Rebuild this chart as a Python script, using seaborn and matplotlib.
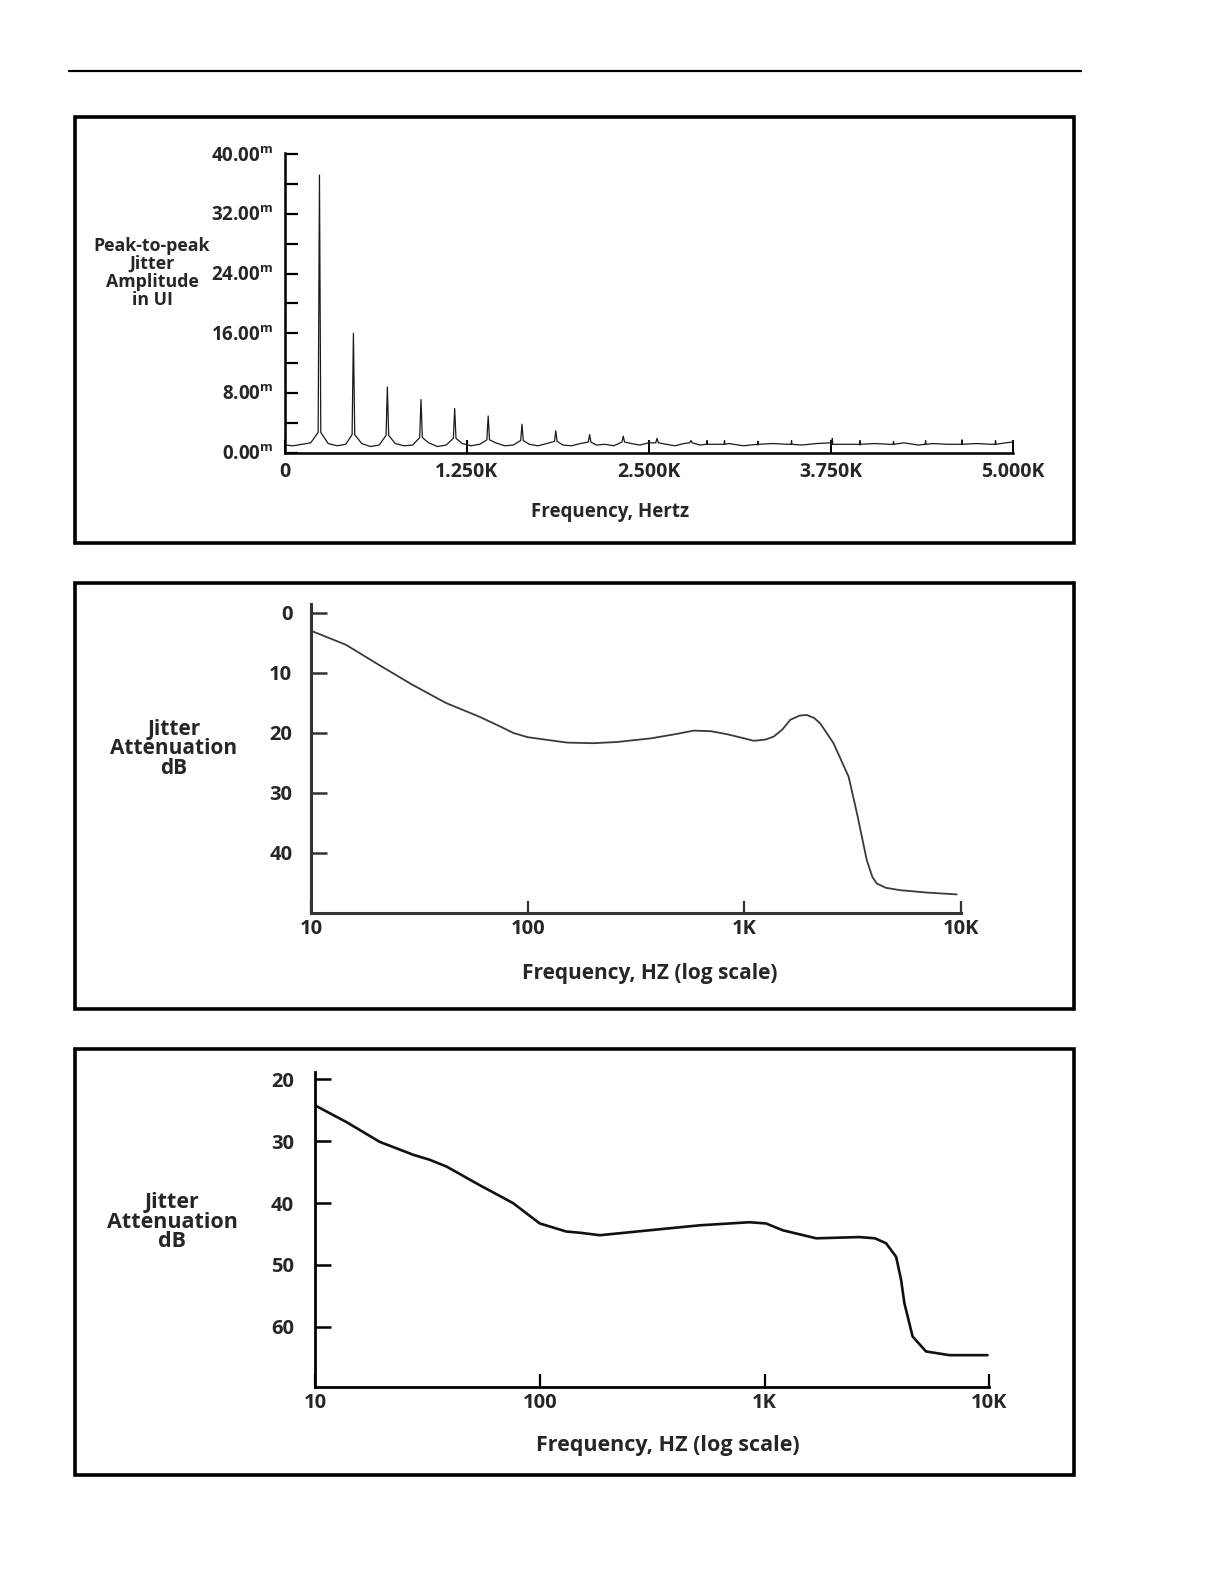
import numpy as np
import pandas as pd
import matplotlib
matplotlib.use("Agg")
import matplotlib.pyplot as plt
import seaborn as sns
from matplotlib.patches import Rectangle
from matplotlib.lines import Line2D
from matplotlib.ticker import FixedLocator, FixedFormatter, NullLocator

# ---------------- data ----------------
# Panel 1: jitter spectrum (harmonic peaks, mUI)
peak_hz = [240, 473, 706, 937, 1168, 1398, 1630, 1862, 2094, 2325, 2557, 2790]
peak_amp = [37.2, 16.0, 8.8, 7.1, 5.9, 4.9, 3.8, 2.9, 2.4, 2.2, 1.9, 1.6]
peak_skirt = [2.7, 2.4, 2.3, 2.0, 1.9, 1.7, 1.6, 1.5, 1.4, 1.4, 1.3, 1.3]

base_hz = [5, 60, 120, 180, 300, 360, 420, 530, 590, 650,
           760, 820, 880, 990, 1050, 1110, 1220, 1280, 1340, 1450,
           1510, 1570, 1680, 1740, 1800, 1910, 1970, 2030, 2140, 2200,
           2260, 2380, 2440, 2500, 2620, 2680, 2740, 2850, 2950, 3050,
           3150, 3250, 3350, 3450, 3550, 3650, 3750, 3850, 3950, 4050,
           4150, 4250, 4350, 4450, 4550, 4650, 4750, 4850, 4950, 5000]
base_amp = [1.0, 0.9, 1.1, 1.3, 1.2, 0.9, 1.1, 1.2, 0.8, 1.0,
            1.2, 0.9, 1.0, 1.3, 0.8, 1.0, 1.2, 0.9, 1.1, 1.3,
            0.9, 1.0, 1.1, 0.9, 1.2, 1.0, 0.9, 1.2, 1.0, 1.1,
            0.9, 1.2, 1.0, 1.3, 1.1, 0.9, 1.2, 1.0, 1.1, 1.2,
            0.9, 1.0, 1.2, 1.1, 1.0, 1.2, 1.3, 1.1, 1.0, 1.2,
            1.1, 1.3, 1.0, 1.2, 1.1, 1.3, 1.2, 1.1, 1.3, 1.4]

minor_hz = [2900, 3020, 3250, 3480, 3760, 3950, 4180, 4400, 4650, 4880]
minor_amp = [1.6, 1.6, 1.5, 1.6, 1.9, 1.6, 1.5, 1.6, 1.7, 1.6]

p1_yticks = [0, 8, 16, 24, 32, 40]
p1_ylabels = ["0.00", "8.00", "16.00", "24.00", "32.00", "40.00"]
p1_xticks = [0, 1250, 2500, 3750, 5000]
p1_xlabels = ["0", "1.250K", "2.500K", "3.750K", "5.000K"]

# Panel 2: jitter attenuation
p2_hz = [10, 14.5, 20.7, 29.5, 42, 60, 75, 86, 100, 152,
         200, 259, 369, 480, 584, 700, 832, 1000, 1104, 1250,
         1366, 1500, 1630, 1800, 1944, 2100, 2240, 2580, 3030, 3310,
         3675, 3900, 4090, 4500, 5240, 7000, 9550]
p2_db = [2.95, 5.3, 8.7, 12.0, 15.0, 17.3, 18.95, 20.0, 20.7, 21.6,
         21.7, 21.5, 20.9, 20.2, 19.6, 19.7, 20.2, 20.9, 21.3, 21.1,
         20.6, 19.4, 17.8, 17.1, 17.0, 17.5, 18.4, 21.7, 27.3, 33.4,
         41.2, 44.0, 45.1, 45.8, 46.2, 46.6, 46.9]
p2_yticks = [0, 10, 20, 30, 40]

# Panel 3: jitter attenuation
p3_hz = [10, 13.8, 19.4, 27.4, 32.4, 38.5, 54, 66, 76, 100,
         131, 151, 185, 308, 514, 858, 1016, 1205, 1698, 2642,
         3100, 3473, 3850, 4050, 4190, 4560, 5230, 6640, 9820]
p3_db = [24.2, 26.9, 30.1, 32.2, 33.0, 34.1, 37.1, 38.8, 40.0, 43.3,
         44.6, 44.8, 45.2, 44.4, 43.6, 43.1, 43.3, 44.4, 45.7, 45.5,
         45.7, 46.5, 48.7, 52.4, 56.2, 61.6, 64.0, 64.6, 64.6]
p3_yticks = [20, 30, 40, 50, 60]

log_ticks = [10, 100, 1000, 10000]
log_labels = ["10", "100", "1K", "10K"]

# ---------------- style ----------------
sns.set_theme(style="white")
FONT = ["Open Sans", "DejaVu Sans"]
plt.rcParams["font.family"] = FONT
plt.rcParams["font.weight"] = "bold"
plt.rcParams["mathtext.fontset"] = "custom"
plt.rcParams["mathtext.rm"] = "Open Sans:bold"
plt.rcParams["mathtext.it"] = "Open Sans:bold"

W, H = 1225, 1585
fig = plt.figure(figsize=(W / 100, H / 100), dpi=100)


def fx(px):
    return px / W


def fy(py):
    return 1 - py / H


def axes_px(x0, x1, ytop, ybot):
    return fig.add_axes([fx(x0), fy(ybot), fx(x1) - fx(x0), fy(ytop) - fy(ybot)])


# frames and top rule
fig.add_artist(Line2D([fx(69), fx(1081)], [fy(71), fy(71)], color="black", lw=1.6))
for top, bot in [(117, 543), (583, 1009), (1049, 1475)]:
    fig.add_artist(Rectangle((fx(75), fy(bot)), fx(1074) - fx(75), fy(top) - fy(bot),
                             fill=False, edgecolor="black", lw=2.6))


def style_axes(ax, lw, color="black"):
    sns.despine(ax=ax, top=True, right=True)
    for s in ("left", "bottom"):
        ax.spines[s].set_linewidth(lw)
        ax.spines[s].set_color(color)
    ax.set_facecolor("none")
    ax.grid(False)
    ax.set_xlabel("")
    ax.set_ylabel("")


# ---------------- panel 1 ----------------
rows = [(f, a) for f, a in zip(base_hz, base_amp)]
for f, a, s in zip(peak_hz, peak_amp, peak_skirt):
    rows += [(f - 9, s), (f, a), (f + 9, s)]
for f, a in zip(minor_hz, minor_amp):
    rows += [(f - 3, 1.1), (f, a), (f + 3, 1.1)]
spec = pd.DataFrame(rows, columns=["hz", "amp"]).sort_values("hz")

ax1 = axes_px(284.5, 1013, 152.7, 452.5)
sns.lineplot(data=spec, x="hz", y="amp", ax=ax1, color="#1a1a1a", lw=0.9,
             estimator=None, sort=True)
ax1.set_xlim(0, 5000)
ax1.set_ylim(0, 40.2)
style_axes(ax1, 1.8)
ax1.yaxis.set_major_locator(FixedLocator(p1_yticks))
ax1.yaxis.set_major_formatter(FixedFormatter([l + r"$^{\mathrm{m}}$" for l in p1_ylabels]))
ax1.yaxis.set_minor_locator(FixedLocator([4, 12, 20, 28, 36]))
ax1.xaxis.set_major_locator(FixedLocator(p1_xticks))
ax1.xaxis.set_major_formatter(FixedFormatter(p1_xlabels))
ax1.xaxis.set_minor_locator(NullLocator())
ax1.tick_params(axis="y", which="both", direction="in", length=9.5, width=1.6,
                color="black", pad=8, labelsize=13.5, left=True)
ax1.tick_params(axis="x", which="major", direction="in", length=9.5, width=1.4,
                color="black", pad=7, labelsize=14, bottom=True)
fig.text(fx(152), fy(273), "Peak-to-peak\nJitter\nAmplitude\nin UI", ha="center",
         va="center", fontsize=12.8, fontweight="bold", linespacing=1.02)
fig.text(fx(610), fy(512), "Frequency, Hertz", ha="center", va="center",
         fontsize=13.5, fontweight="bold")

# ---------------- panel 2 ----------------
df2 = pd.DataFrame({"hz": p2_hz, "db": p2_db})
ax2 = axes_px(311, 961, 604, 913)
sns.lineplot(data=df2, x="hz", y="db", ax=ax2, color="#3a3a3a", lw=1.3,
             estimator=None, sort=True)
ax2.set_xscale("log")
ax2.set_xlim(10, 10000)
ax2.set_ylim(50, -1.5)
style_axes(ax2, 2.2, "#333333")
ax2.yaxis.set_major_locator(FixedLocator(p2_yticks))
ax2.yaxis.set_major_formatter(FixedFormatter([str(v) for v in p2_yticks]))
ax2.xaxis.set_major_locator(FixedLocator(log_ticks))
ax2.xaxis.set_major_formatter(FixedFormatter(log_labels))
ax2.xaxis.set_minor_locator(NullLocator())
ax2.yaxis.set_minor_locator(NullLocator())
ax2.tick_params(axis="y", direction="in", length=11.5, width=1.8, color="#333333",
                pad=13.5, labelsize=14.5, left=True)
ax2.tick_params(axis="x", direction="in", length=8.6, width=1.6, color="#333333",
                pad=4.5, labelsize=14.5, bottom=True)
fig.text(fx(174), fy(749), "Jitter\nAttenuation\ndB", ha="center", va="center",
         fontsize=15, fontweight="bold", linespacing=0.88)
fig.text(fx(650), fy(974), "Frequency, HZ (log scale)", ha="center", va="center",
         fontsize=15, fontweight="bold")

# ---------------- panel 3 ----------------
df3 = pd.DataFrame({"hz": p3_hz, "db": p3_db})
ax3 = axes_px(315, 989.3, 1072, 1387.3)
sns.lineplot(data=df3, x="hz", y="db", ax=ax3, color="#111111", lw=1.9,
             estimator=None, sort=True)
ax3.set_xscale("log")
ax3.set_xlim(10, 10000)
ax3.set_ylim(69.8, 18.8)
style_axes(ax3, 2.0)
ax3.yaxis.set_major_locator(FixedLocator(p3_yticks))
ax3.yaxis.set_major_formatter(FixedFormatter([str(v) for v in p3_yticks]))
ax3.xaxis.set_major_locator(FixedLocator(log_ticks))
ax3.xaxis.set_major_formatter(FixedFormatter(log_labels))
ax3.xaxis.set_minor_locator(NullLocator())
ax3.yaxis.set_minor_locator(NullLocator())
ax3.tick_params(axis="y", direction="in", length=11.5, width=1.8, color="black",
                pad=15, labelsize=14.5, left=True)
ax3.tick_params(axis="x", direction="in", length=9.4, width=1.6, color="black",
                pad=4, labelsize=14.5, bottom=True)
fig.text(fx(172), fy(1222), "Jitter\nAttenuation\ndB", ha="center", va="center",
         fontsize=15.5, fontweight="bold", linespacing=0.9)
fig.text(fx(668), fy(1445), "Frequency, HZ (log scale)", ha="center", va="center",
         fontsize=15.5, fontweight="bold")

fig.savefig("out.png", dpi=100, facecolor="white")
